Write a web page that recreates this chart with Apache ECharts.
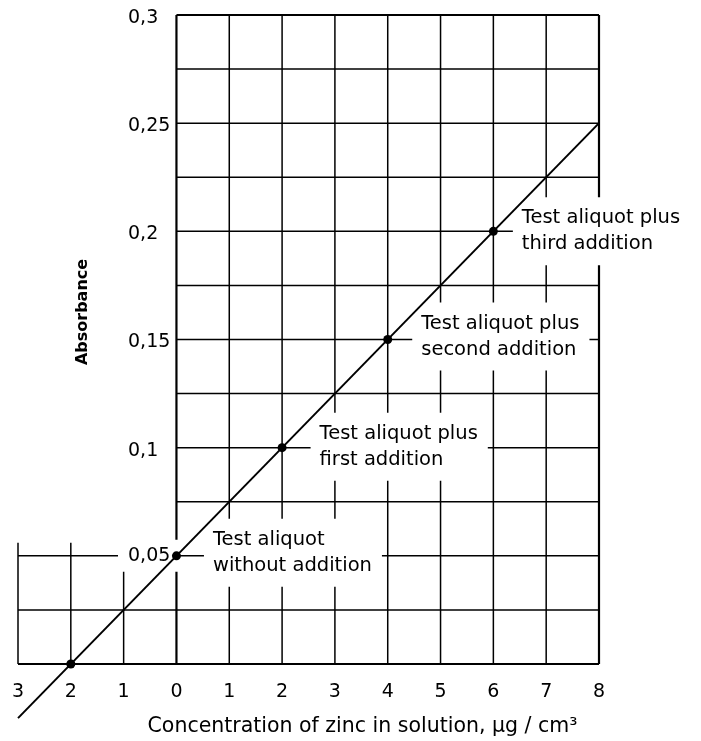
<!DOCTYPE html>
<html>
<head>
<meta charset="utf-8">
<title>Zinc standard additions</title>
<script src="https://cdn.jsdelivr.net/npm/echarts@6/dist/echarts.min.js"></script>
<style>
  html, body { margin: 0; padding: 0; background: #fff; }
  #main { width: 701px; height: 741px; }
</style>
</head>
<body>
<div id="main"></div>
<script>
// axis ticks (left of zero the concentration is shown without sign)
const xTicks = [-3, -2, -1, 0, 1, 2, 3, 4, 5, 6, 7, 8];
const xTickLabels = ['3', '2', '1', '0', '1', '2', '3', '4', '5', '6', '7', '8'];
const yTicks = [0, 0.025, 0.05, 0.075, 0.1, 0.125, 0.15, 0.175, 0.2, 0.225, 0.25, 0.275, 0.3];
const yLabelValues = [0.05, 0.1, 0.15, 0.2, 0.25, 0.3];
const yLabelText = ['0,05', '0,1', '0,15', '0,2', '0,25', '0,3'];

// measured points
const concentration = [-2, 0, 2, 4, 6];
const absorbance = [0, 0.05, 0.1, 0.15, 0.2];
const pointNames = [
  '',
  'Test aliquot\nwithout addition',
  'Test aliquot plus\nfirst addition',
  'Test aliquot plus\nsecond addition',
  'Test aliquot plus\nthird addition'
];

// calibration line, runs past the bottom axis on the left
const lineX = [-3, 8];
const lineY = [-0.025, 0.25];

// left of zero the grid stops just above 0,05
const leftGridTop = 0.056;

// label placement: [distance from point, vertical shift]
const labelNudge = [[0, 0], [23, -3], [24, -1], [20, -3], [15, 0]];

const FONT = 'DejaVu Sans';

var chart = echarts.init(document.getElementById('main'));

// grid segments [x1, y1, x2, y2]
var gridSegs = [];
xTicks.forEach(function (x) {
  gridSegs.push([x, 0, x, x < 0 ? leftGridTop : 0.3]);
});
yTicks.forEach(function (y) {
  gridSegs.push([y <= 0.05 ? -3 : 0, y, 8, y]);
});

function yLabel(v) {
  var k = Math.round(v * 1000);
  for (var i = 0; i < yLabelValues.length; i++) {
    if (Math.round(yLabelValues[i] * 1000) === k) {
      // the label that sits inside the grid gets a white box
      var style = yLabelValues[i] <= leftGridTop ? 'b' : 'v';
      return '{' + style + '|' + yLabelText[i] + '}';
    }
  }
  return '';
}

var pointData = concentration.map(function (x, i) {
  return {
    value: [x, absorbance[i]],
    label: {
      show: pointNames[i] !== '',
      position: 'right',
      distance: labelNudge[i][0],
      offset: [0, labelNudge[i][1]],
      formatter: pointNames[i]
    }
  };
});

chart.setOption({
  animation: false,
  backgroundColor: '#fff',
  grid: { left: 18, right: 102, top: 15, bottom: 77, outerBoundsMode: 'none', containLabel: false },
  xAxis: {
    type: 'value',
    min: -3,
    max: 8,
    interval: 1,
    axisLine: { show: false, onZero: false },
    axisTick: { show: false },
    splitLine: { show: false },
    axisLabel: {
      margin: 19,
      color: '#000',
      fontFamily: FONT,
      fontSize: 19,
      formatter: function (v) {
        var i = xTicks.indexOf(Math.round(v));
        return i < 0 ? '' : xTickLabels[i];
      }
    },
    name: 'Concentration of zinc in solution, µg / cm³',
    nameLocation: 'middle',
    nameGap: 52,
    nameTextStyle: {
      color: '#000',
      fontFamily: FONT,
      fontSize: 20.5,
      padding: [0, 0, 0, 108]
    }
  },
  yAxis: {
    type: 'value',
    min: 0,
    max: 0.3,
    interval: 0.025,
    z: 3,
    axisLine: { show: false },
    axisTick: { show: false },
    splitLine: { show: false },
    axisLabel: {
      align: 'left',
      margin: -100,
      formatter: yLabel,
      rich: {
        v: {
          color: '#000',
          fontFamily: FONT,
          fontSize: 19,
          lineHeight: 20,
          padding: [6, 8, 0, 10]
        },
        b: {
          color: '#000',
          fontFamily: FONT,
          fontSize: 19,
          lineHeight: 20,
          backgroundColor: '#fff',
          padding: [7, 8, 6, 10]
        }
      }
    },
    name: 'Absorbance',
    nameLocation: 'middle',
    nameGap: -73,
    nameTextStyle: {
      color: '#000',
      fontFamily: FONT,
      fontSize: 16,
      fontWeight: 'bold',
      padding: [0, 0, 0, 55]
    }
  },
  series: [
    {
      // grid lines
      type: 'custom',
      z: 1,
      silent: true,
      encode: { x: [0, 2], y: [1, 3] },
      data: gridSegs,
      renderItem: function (params, api) {
        var x1 = api.value(0), y1 = api.value(1), x2 = api.value(2), y2 = api.value(3);
        var p1 = api.coord([x1, y1]);
        var p2 = api.coord([x2, y2]);
        var edge = (x1 === x2 && (x1 === 0 || x1 === 8)) || (y1 === y2 && (y1 === 0 || y1 === 0.3));
        return {
          type: 'line',
          shape: { x1: p1[0], y1: p1[1], x2: p2[0], y2: p2[1] },
          style: { stroke: '#000', lineWidth: edge ? 2.2 : 1.5 }
        };
      }
    },
    {
      // calibration line, drawn over the label boxes
      type: 'line',
      z: 9,
      silent: true,
      clip: false,
      showSymbol: false,
      symbol: 'none',
      lineStyle: { color: '#000', width: 2 },
      data: lineX.map(function (x, i) { return [x, lineY[i]]; })
    },
    {
      type: 'scatter',
      z: 5,
      silent: true,
      symbol: 'circle',
      symbolSize: 9,
      itemStyle: { color: '#000', opacity: 1 },
      label: {
        color: '#000',
        fontFamily: FONT,
        fontSize: 19.5,
        lineHeight: 26,
        align: 'left',
        backgroundColor: '#fff',
        padding: [8, 10, 8, 9]
      },
      data: pointData
    }
  ]
});
</script>
</body>
</html>
